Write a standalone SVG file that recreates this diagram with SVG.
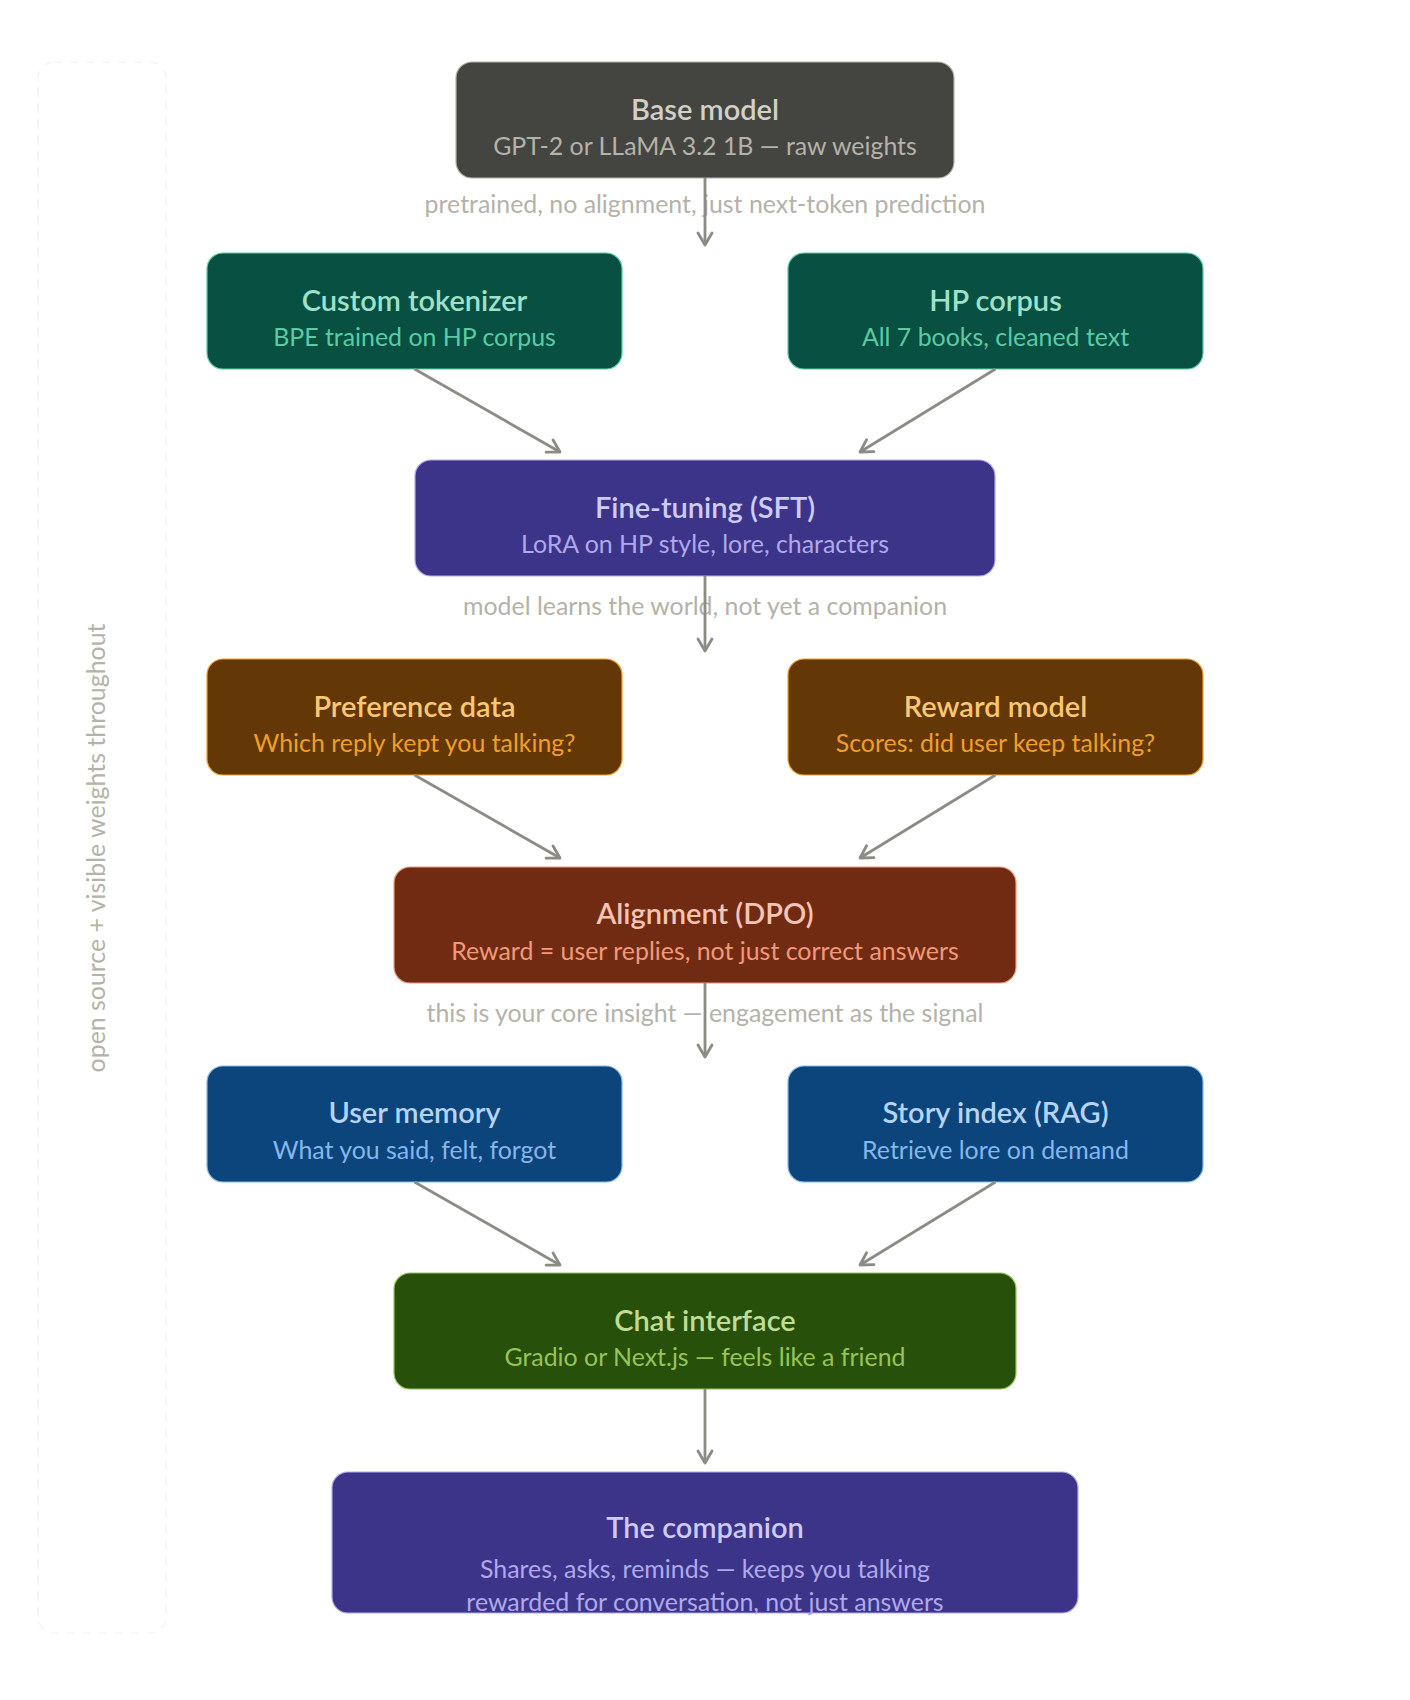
<svg xmlns="http://www.w3.org/2000/svg" width="1410" height="1700" viewBox="0 0 1410 1700">
<style>
  .t { font-family: Lato, "Noto Sans", "Liberation Sans", sans-serif; font-size: 29px; font-weight: 600; text-anchor: middle; dominant-baseline: central; }
  .s { font-family: Lato, "Noto Sans", "Liberation Sans", sans-serif; font-size: 24.9px; font-weight: 400; text-anchor: middle; dominant-baseline: central; }
  .lbl { font-family: Lato, "Noto Sans", "Liberation Sans", sans-serif; font-size: 24.9px; fill: #b4b2a9; text-anchor: middle; dominant-baseline: central; }
  .edge { stroke: #8c8b84; stroke-width: 2.8; fill: none; marker-end: url(#arr); }
  .box { stroke-width: 1.2; }
  .gray rect { fill: #444441; stroke: #b4b2a9; } .gray .t { fill: #d3d1c7; } .gray .s { fill: #b4b2a9; }
  .teal rect { fill: #085041; stroke: #5dcaa5; } .teal .t { fill: #9fe1cb; } .teal .s { fill: #5dcaa5; }
  .purple rect { fill: #3c3489; stroke: #afa9ec; } .purple .t { fill: #cecbf6; } .purple .s { fill: #afa9ec; }
  .amber rect { fill: #633806; stroke: #ef9f27; } .amber .t { fill: #fac775; } .amber .s { fill: #ef9f27; }
  .coral rect { fill: #712b13; stroke: #f0997b; } .coral .t { fill: #f5c4b3; } .coral .s { fill: #f0997b; }
  .blue rect { fill: #0c447c; stroke: #85b7eb; } .blue .t { fill: #b5d4f4; } .blue .s { fill: #85b7eb; }
  .green rect { fill: #27500a; stroke: #97c459; } .green .t { fill: #c0dd97; } .green .s { fill: #97c459; }
</style>
<defs>
  <marker id="arr" markerUnits="userSpaceOnUse" markerWidth="18" markerHeight="18" viewBox="0 0 18 18" refX="15" refY="9" orient="auto">
    <path d="M3,2 L15,9 L3,16" fill="none" stroke="#8c8b84" stroke-width="2.8" stroke-linecap="round" stroke-linejoin="round"/>
  </marker>
</defs>
<rect x="0" y="0" width="1410" height="1700" fill="#ffffff"/>

<g id="side-band">
  <rect x="38" y="62" width="128" height="1571" rx="16" fill="none" stroke="#f2f1ee" stroke-width="1.2" stroke-dasharray="8 8"/>
  <text class="lbl" transform="translate(95,848) rotate(-90)" fill="#c2c1bb">open source + visible weights throughout</text>
</g>

<g id="labels">
  <text class="lbl" x="705" y="203">pretrained, no alignment, just next-token prediction</text>
  <text class="lbl" x="705" y="605">model learns the world, not yet a companion</text>
  <text class="lbl" x="705" y="1012">this is your core insight — engagement as the signal</text>
</g>

<g id="base" class="gray">
  <rect class="box" x="456" y="62" width="498" height="116" rx="16"/>
  <text class="t" x="705" y="108">Base model</text>
  <text class="s" x="705" y="145">GPT-2 or LLaMA 3.2 1B — raw weights</text>
</g>
<g id="tokenizer" class="teal">
  <rect class="box" x="207" y="253" width="415" height="116" rx="16"/>
  <text class="t" x="414.5" y="299">Custom tokenizer</text>
  <text class="s" x="414.5" y="336">BPE trained on HP corpus</text>
</g>
<g id="corpus" class="teal">
  <rect class="box" x="788" y="253" width="415" height="116" rx="16"/>
  <text class="t" x="995.5" y="299">HP corpus</text>
  <text class="s" x="995.5" y="336">All 7 books, cleaned text</text>
</g>
<g id="sft" class="purple">
  <rect class="box" x="415" y="460" width="580" height="116" rx="16"/>
  <text class="t" x="705" y="506">Fine-tuning (SFT)</text>
  <text class="s" x="705" y="543">LoRA on HP style, lore, characters</text>
</g>
<g id="preference" class="amber">
  <rect class="box" x="207" y="659" width="415" height="116" rx="16"/>
  <text class="t" x="414.5" y="705">Preference data</text>
  <text class="s" x="414.5" y="742">Which reply kept you talking?</text>
</g>
<g id="reward" class="amber">
  <rect class="box" x="788" y="659" width="415" height="116" rx="16"/>
  <text class="t" x="995.5" y="705">Reward model</text>
  <text class="s" x="995.5" y="742">Scores: did user keep talking?</text>
</g>
<g id="dpo" class="coral">
  <rect class="box" x="394" y="867" width="622" height="116" rx="16"/>
  <text class="t" x="705" y="912">Alignment (DPO)</text>
  <text class="s" x="705" y="950">Reward = user replies, not just correct answers</text>
</g>
<g id="memory" class="blue">
  <rect class="box" x="207" y="1066" width="415" height="116" rx="16"/>
  <text class="t" x="414.5" y="1111">User memory</text>
  <text class="s" x="414.5" y="1149">What you said, felt, forgot</text>
</g>
<g id="rag" class="blue">
  <rect class="box" x="788" y="1066" width="415" height="116" rx="16"/>
  <text class="t" x="995.5" y="1111">Story index (RAG)</text>
  <text class="s" x="995.5" y="1149">Retrieve lore on demand</text>
</g>
<g id="chat" class="green">
  <rect class="box" x="394" y="1273" width="622" height="116" rx="16"/>
  <text class="t" x="705" y="1319">Chat interface</text>
  <text class="s" x="705" y="1356">Gradio or Next.js — feels like a friend</text>
</g>
<g id="companion" class="purple">
  <rect class="box" x="332" y="1472" width="746" height="141" rx="16"/>
  <text class="t" x="705" y="1526">The companion</text>
  <text class="s" x="705" y="1568">Shares, asks, reminds — keeps you talking</text>
  <text class="s" x="705" y="1601">rewarded for conversation, not just answers</text>
</g>

<g id="connectors">
  <line class="edge" x1="705" y1="178" x2="705" y2="245"/>
  <line class="edge" x1="414.5" y1="369" x2="560" y2="452"/>
  <line class="edge" x1="995.5" y1="369" x2="860" y2="452"/>
  <line class="edge" x1="705" y1="576" x2="705" y2="651"/>
  <line class="edge" x1="414.5" y1="775" x2="560" y2="858"/>
  <line class="edge" x1="995.5" y1="775" x2="860" y2="858"/>
  <line class="edge" x1="705" y1="983" x2="705" y2="1057"/>
  <line class="edge" x1="414.5" y1="1182" x2="560" y2="1265"/>
  <line class="edge" x1="995.5" y1="1182" x2="860" y2="1265"/>
  <line class="edge" x1="705" y1="1389" x2="705" y2="1463"/>
</g>
</svg>
